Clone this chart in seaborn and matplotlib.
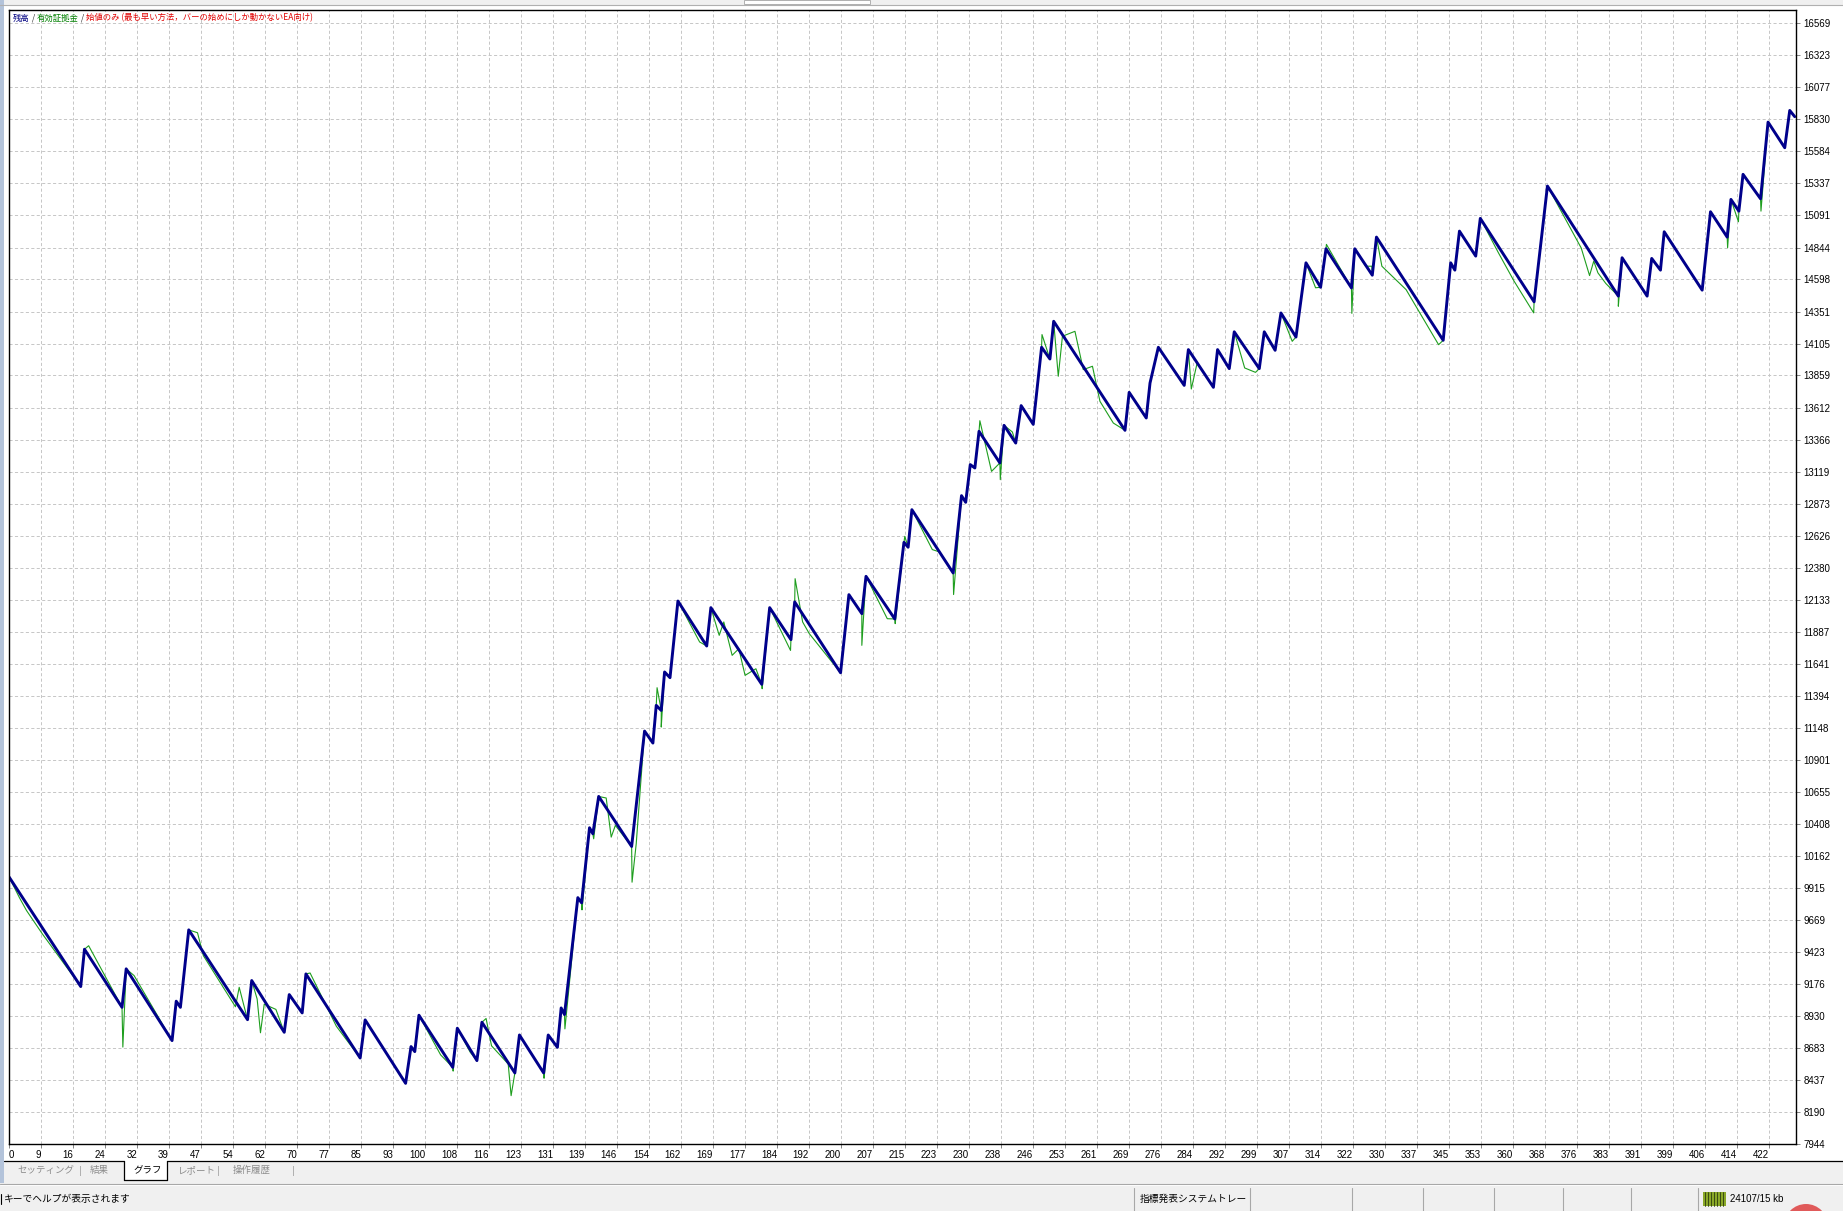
import numpy as np
import pandas as pd
import matplotlib
matplotlib.use("Agg")
import matplotlib.pyplot as plt
import seaborn as sns
from matplotlib.patches import Rectangle, Circle
from matplotlib.lines import Line2D

# balance line (thick navy): trade number / account value at each turning point
bal_trade = [0, 17.2, 18.1, 27.1, 28.1, 39.1, 40.1, 41.1, 43.1, 57.2, 58.2, 66.0, 67.2, 70.3, 71.2,
             84.2, 85.4, 95.1, 96.4, 97.3, 98.3, 106.4, 107.5, 112.2, 113.4, 121.3, 122.4, 128.2,
             129.3, 131.5, 132.4, 133.2, 136.4, 137.3, 139.2, 140.0, 141.4, 149.3, 152.4, 154.4,
             155.2, 156.4, 157.2, 158.5, 160.4, 167.3, 168.3, 180.5, 182.4, 187.5, 188.4, 199.4,
             201.4, 204.5, 205.5, 212.4, 214.6, 215.6, 216.5, 226.4, 228.4, 229.4, 230.5, 231.6,
             232.6, 237.6, 238.6, 241.4, 242.7, 245.6, 247.6, 249.6, 250.5, 267.6, 268.6, 272.7,
             273.6, 275.6, 281.8, 282.8, 288.8, 289.8, 292.6, 293.8, 299.8, 301.0, 303.6, 305.0,
             308.6, 311.0, 314.5, 315.8, 321.9, 322.7, 326.9, 327.9, 343.9, 345.7, 346.7, 347.8,
             351.7, 352.8, 365.7, 368.9, 385.9, 386.8, 392.8, 393.9, 396.0, 396.9, 406.0, 408.0,
             412.0, 412.9, 414.8, 415.8, 420.0, 421.8, 425.8, 427.0, 428.2]
bal_value = [10000, 9156, 9443, 8996, 9292, 8740, 9043, 8996, 9592, 8901, 9202, 8804, 9094, 8953, 9253,
             8606, 8899, 8411, 8694, 8655, 8935, 8534, 8835, 8586, 8881, 8491, 8783, 8491,
             8783, 8688, 8991, 8940, 9840, 9800, 10378, 10332, 10619, 10234, 11122, 11030,
             11320, 11281, 11577, 11533, 12123, 11777, 12072, 11482, 12072, 11826, 12116, 11571,
             12172, 12026, 12313, 11985, 12575, 12537, 12826, 12339, 12934, 12883, 13173, 13147,
             13429, 13186, 13475, 13339, 13627, 13483, 14076, 13986, 14276, 13437, 13729, 13532,
             13801, 14076, 13783, 14058, 13768, 14058, 13912, 14195, 13912, 14195, 14053, 14340,
             14155, 14726, 14538, 14834, 14533, 14834, 14631, 14924, 14130, 14726, 14670, 14970,
             14778, 15068, 14426, 15317, 14470, 14765, 14470, 14760, 14670, 14965, 14516, 15119,
             14924, 15214, 15124, 15407, 15219, 15809, 15612, 15899, 15851]

# equity line (thin green): points where it leaves the balance line
eq_trade = [2.5, 4.2, 8.0, 19.1, 27.3, 30.0, 45.2, 46.6, 54.3, 55.2, 59.5, 60.3, 61.2, 64.0, 72.2,
            78.5, 103.5, 106.5, 110.6, 114.4, 115.7, 119.7, 120.4, 128.3, 133.3, 137.4, 140.2,
            143.2, 144.4, 145.4, 149.4, 150.4, 155.4, 156.4, 165.6, 170.3, 171.4, 173.4, 175.0,
            176.5, 179.1, 180.6, 187.4, 188.5, 190.3, 191.9, 204.5, 210.6, 212.5, 214.8, 221.4,
            223.2, 226.5, 232.8, 235.6, 237.7, 240.6, 247.7, 251.6, 252.6, 255.6, 257.6, 259.8,
            261.6, 264.8, 283.5, 284.9, 296.3, 298.9, 307.7, 313.3, 315.9, 322.0, 325.3, 326.8,
            329.2, 335.0, 342.8, 357.2, 360.9, 365.6, 377.0, 379.0, 380.0, 381.0, 382.9, 385.9,
            412.1, 414.7, 420.1]
eq_value = [9840, 9741, 9561, 9470, 8690, 9240, 9570, 9394, 9000, 9150, 9060, 8800, 9020, 8980, 9260,
            8850, 8630, 8505, 8650, 8910, 8700, 8560, 8316, 8450, 8830, 9746, 10293,
            10607, 10306, 10396, 9959, 10255, 11456, 11153, 11808, 11859, 11962, 11705, 11756,
            11551, 11602, 11448, 11743, 12295, 11962, 11872, 11782, 11987, 11949, 12621, 12519,
            12500, 12173, 13511, 13121, 13057, 13424, 14174, 13853, 14161, 14199, 13904, 13930,
            13660, 13493, 13755, 13955, 13917, 13883, 14122, 14534, 14868, 14337, 14700, 14700,
            14700, 14520, 14096, 14800, 14585, 14341, 14840, 14628, 14739, 14649, 14567, 14392,
            14842, 15042, 15124]

x_labels = ['0', '9', '16', '24', '32', '39', '47', '54', '62', '70', '77', '85', '93', '100',
            '108', '116', '123', '131', '139', '146', '154', '162', '169', '177', '184', '192',
            '200', '207', '215', '223', '230', '238', '246', '253', '261', '269', '276', '284',
            '292', '299', '307', '314', '322', '330', '337', '345', '353', '360', '368', '376',
            '383', '391', '399', '406', '414', '422']
y_labels = [7944, 8190, 8437, 8683, 8930, 9176, 9423, 9669, 9915, 10162, 10408, 10655, 10901,
            11148, 11394, 11641, 11887, 12133, 12380, 12626, 12873, 13119, 13366, 13612, 13859,
            14105, 14351, 14598, 14844, 15091, 15337, 15584, 15830, 16077, 16323, 16569]

bal = pd.DataFrame({'trade': bal_trade, 'value': bal_value})
eq = pd.concat([bal, pd.DataFrame({'trade': eq_trade, 'value': eq_value})])
eq = eq.sort_values('trade', kind='mergesort')

sns.set_theme(style="white")
plt.rcParams['font.family'] = ['Liberation Sans', 'Noto Sans CJK JP']
JP = ['Noto Sans CJK JP', 'DejaVu Sans']

W, H = 1843, 1211
fig = plt.figure(figsize=(W / 100, H / 100), dpi=100, facecolor='#f0f0f0')


def fx(x):
    return x / W


def fy(y):
    return 1 - y / H


def rect(x0, y0, x1, y1, **kw):
    fig.add_artist(Rectangle((fx(x0), fy(y1)), (x1 - x0) / W, (y1 - y0) / H,
                             transform=fig.transFigure, **kw))


def hline(x0, x1, y, **kw):
    fig.add_artist(Line2D([fx(x0), fx(x1)], [fy(y), fy(y)], transform=fig.transFigure, **kw))


def vline(x, y0, y1, **kw):
    fig.add_artist(Line2D([fx(x), fx(x)], [fy(y0), fy(y1)], transform=fig.transFigure, **kw))


# window chrome
rect(4, 5, W, 1161, facecolor='white', edgecolor='none', zorder=0)
rect(0, 0, 4, 1183, facecolor='#b3c3da', edgecolor='none', zorder=1)
hline(0, W, 4.5, color='#b0b0b0', linewidth=0.8)
rect(744, 0, 870, 4, facecolor='white', edgecolor='#b0b0b0', linewidth=0.7)

# chart
left, right, top, bottom = 9, 1796, 10, 1144
ax = fig.add_axes([fx(left), fy(bottom), (right - left) / W, (bottom - top) / H])
ax.set_facecolor('white')
sns.lineplot(data=eq, x='trade', y='value', ax=ax, color='#1e9e1e', linewidth=0.8,
             estimator=None, sort=False)
sns.lineplot(data=bal, x='trade', y='value', ax=ax, color='#00008b', linewidth=2.1,
             estimator=None, sort=False)

x_pos = np.arange(len(x_labels)) * 422 / (len(x_labels) - 1)
ax.set_xlim(0, 428.5)
ax.set_ylim(7944, 16672)
ax.set_xticks(x_pos)
ax.set_xticklabels(x_labels)
ax.set_yticks(y_labels)
ax.set_yticklabels([str(v) for v in y_labels])
ax.yaxis.tick_right()
ax.set_xlabel('')
ax.set_ylabel('')
ax.grid(True, color='#c6c6c6', linestyle=(0, (3.2, 2.4)), linewidth=0.7)
ax.tick_params(axis='x', bottom=True, length=3, width=0.6, color='#707070', pad=1,
               labelsize=7, labelcolor='black')
ax.tick_params(axis='y', right=True, left=False, length=3, width=0.6, color='#707070', pad=2.5,
               labelsize=7, labelcolor='black')
for i, lab in enumerate(ax.get_xticklabels()):
    lab.set_ha('left' if i == 0 else 'right')
for s in ax.spines.values():
    s.set_visible(True)
    s.set_color('black')
    s.set_linewidth(1.0)

# legend line at top-left
parts = [('残高', '#000080'), (' / ', '#303030'), ('有効証拠金', '#008000'), (' / ', '#303030'),
         ('始値のみ (最も早い方法，バーの始めにしか動かないEA向け)', '#e00000')]
prev = ax.annotate(parts[0][0], xy=(fx(13), fy(18)), xycoords='figure fraction', ha='left',
                   va='center', fontsize=6, color=parts[0][1], family=JP)
for txt, col in parts[1:]:
    prev = ax.annotate(txt, xy=(1, 0), xycoords=prev, ha='left', va='bottom', fontsize=6,
                       color=col, family=JP)

# tab bar
hline(4, 124, 1161, color='black', linewidth=0.9)
hline(167, W, 1161, color='black', linewidth=0.9)
rect(124, 1161, 167, 1180, facecolor='white', edgecolor='none')
vline(124, 1161, 1180, color='black', linewidth=0.9)
vline(167, 1161, 1180, color='black', linewidth=0.9)
hline(124, 167, 1180, color='black', linewidth=0.9)
tabs = [('セッティング', 17, '#8c8c8c'), ('|', 79, '#8c8c8c'), ('結果', 90, '#8c8c8c'),
        ('グラフ', 133, 'black'), ('レポート', 178, '#8c8c8c'), ('|', 217, '#8c8c8c'),
        ('操作履歴', 233, '#8c8c8c'), ('|', 292, '#8c8c8c')]
for txt, x, col in tabs:
    fig.text(fx(x), fy(1170.5), txt, ha='left', va='center', fontsize=6.8, color=col, family=JP)

# status bar
hline(0, W, 1183.5, color='#a8a8a8', linewidth=0.8)
hline(0, W, 1184.5, color='white', linewidth=0.6)
vline(1.2, 1194, 1204, color='black', linewidth=0.8)  # edge of the clipped "F1"
fig.text(fx(4), fy(1199), 'キーでヘルプが表示されます', ha='left', va='center', fontsize=7,
         color='black', family=JP)
for x in [1134, 1250, 1352, 1423, 1494, 1563, 1631, 1698]:
    vline(x, 1188, 1211, color='#a8a8a8', linewidth=0.8)
fig.text(fx(1140), fy(1199), '指標発表システムトレー', ha='left', va='center', fontsize=7,
         color='black', family=JP)
rect(1703, 1192, 1726, 1206, facecolor='#8aa828', edgecolor='none')
for x in np.arange(1705, 1726, 3):
    vline(x, 1192, 1206, color='#2c3c10', linewidth=0.6)
fig.text(fx(1730), fy(1199), '24107/15 kb', ha='left', va='center', fontsize=7, color='black')
fig.add_artist(Circle((1806 / 100, (H - 1226) / 100), 0.22, transform=fig.dpi_scale_trans,
                      facecolor='#e05a5a', edgecolor='none'))

fig.savefig('out.png', dpi=100, facecolor=fig.get_facecolor())
